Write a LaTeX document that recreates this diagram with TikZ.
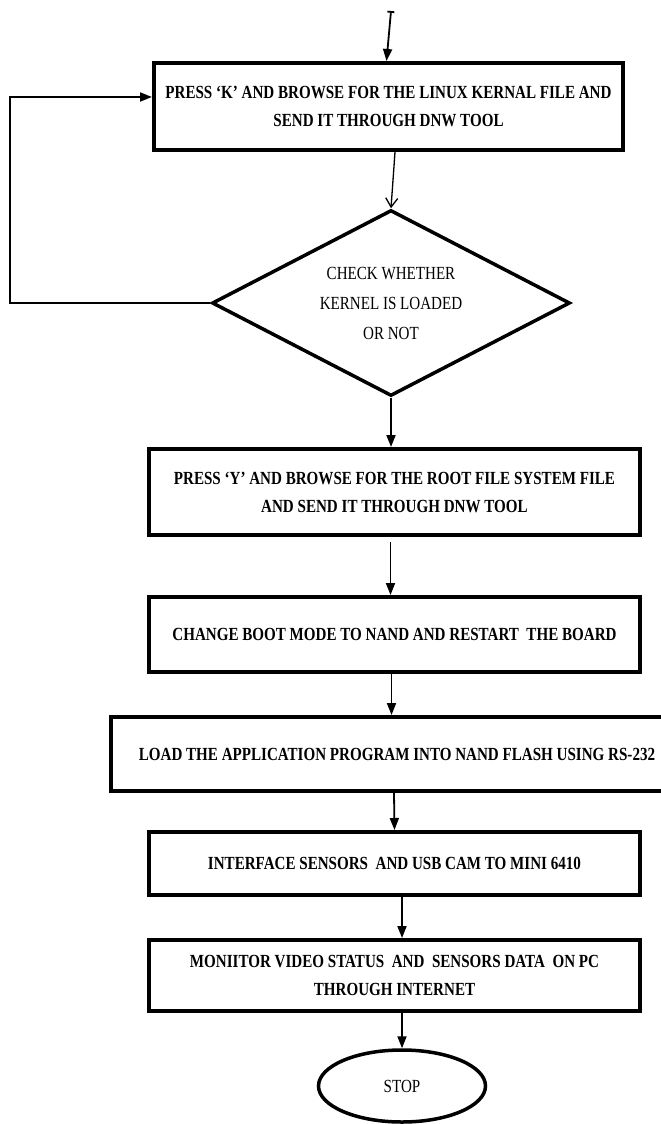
\documentclass[tikz,border=0pt]{standalone}
\usepackage{fontspec}
\setmainfont{Liberation Serif}[FakeStretch=0.815]
\usetikzlibrary{shapes.geometric,arrows.meta}

\begin{document}
\begin{tikzpicture}[x=1pt, y=-1pt,
    procbox/.style={draw, line width=4pt, inner sep=0pt, align=center, font=\fontsize{18.5}{28}\selectfont\bfseries},
    decision/.style={draw, diamond, line width=3.5pt, inner sep=0pt, aspect=1.9, minimum width=358pt, minimum height=186pt, align=center, font=\fontsize{18.5}{30}\selectfont},
    term/.style={draw, ellipse, line width=3.5pt, inner sep=0pt, minimum width=167pt, minimum height=72pt, font=\fontsize{18.5}{22}\selectfont},
    arr/.style={line width=1.8pt, -{Triangle[length=12pt,width=9pt]}}]
\useasboundingbox[fill=white] (0,0) rectangle (661,1124);
% boxes of the flow
\node[procbox, minimum width=469pt, minimum height=87pt] (kern) at (388.5,106.5) {PRESS ‘K’ AND BROWSE FOR THE LINUX KERNAL FILE AND\\SEND IT THROUGH DNW TOOL};
\node[decision] (chk) at (391,303) {CHECK WHETHER\\KERNEL IS LOADED\\OR NOT};
\node[procbox, minimum width=491pt, minimum height=86pt] (rfs) at (394.5,492) {PRESS ‘Y’ AND BROWSE FOR THE ROOT FILE SYSTEM FILE\\AND SEND IT THROUGH DNW TOOL};
\node[procbox, minimum width=491pt, minimum height=75pt] (boot) at (394.5,634.5) {CHANGE BOOT MODE TO NAND AND RESTART\ \ THE BOARD};
\node[procbox, minimum width=572pt, minimum height=74pt] (app) at (397,754) {LOAD THE APPLICATION PROGRAM INTO NAND FLASH USING RS-232};
\node[procbox, minimum width=491pt, minimum height=63pt] (sens) at (394.5,863.5) {INTERFACE SENSORS\ \ AND USB CAM TO MINI 6410};
\node[procbox, minimum width=491pt, minimum height=71pt] (mon) at (394.5,975.5) {MONIITOR VIDEO STATUS\ \ AND\ \ SENSORS DATA\ \ ON PC\\THROUGH INTERNET};
\node[term] (stop) at (402,1086) {STOP};
% connectors
\coordinate (start) at (391,11);
\coordinate (loop) at (10,97);
\draw[line width=1.8pt, {Bar[width=7pt]}-{Triangle[length=12pt,width=9pt]}] (start) -- ([xshift=-2pt]kern.north);
\draw[line width=1.3pt, -{Straight Barb[length=9pt,width=12pt]}] ([xshift=6.5pt]kern.south) -- (chk.north);
\draw[arr] (chk.west) -| (loop) -- (loop -| kern.west);
\draw[arr] (chk.south) -- (chk.south |- rfs.north);
\draw[arr, shorten <=5pt] ([xshift=-4pt]rfs.south) -- ([xshift=-4pt]boot.north);
\draw[arr] ([xshift=-3pt]boot.south) -- ([xshift=-3pt]boot.south |- app.north);
\draw[arr] ([xshift=-3pt]app.south) -- (sens.north);
\draw[arr] ([xshift=7.5pt]sens.south) -- ([xshift=7.5pt]mon.north);
\draw[arr] ([xshift=7.5pt]mon.south) -- (stop.north);
\end{tikzpicture}
\end{document}
